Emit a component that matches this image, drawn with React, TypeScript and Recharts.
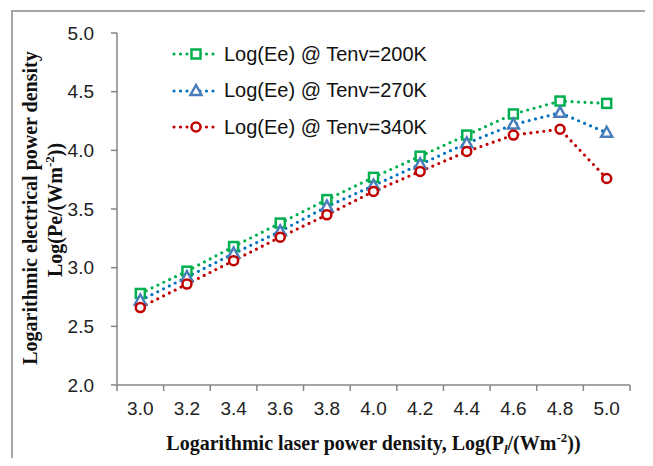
import React from "react";
import { LineChart, Line, XAxis, YAxis } from "recharts";

const laserLog = [3.0, 3.2, 3.4, 3.6, 3.8, 4.0, 4.2, 4.4, 4.6, 4.8, 5.0];
const tenv200 = [2.78, 2.97, 3.18, 3.38, 3.58, 3.77, 3.95, 4.13, 4.31, 4.42, 4.4];
const tenv270 = [2.72, 2.92, 3.12, 3.31, 3.52, 3.7, 3.88, 4.06, 4.22, 4.32, 4.15];
const tenv340 = [2.66, 2.86, 3.06, 3.26, 3.45, 3.65, 3.82, 3.99, 4.13, 4.18, 3.76];
const boundaryTicks = [2.9, 3.1, 3.3, 3.5, 3.7, 3.9, 4.1, 4.3, 4.5, 4.7, 4.9, 5.1];
const yTicks = [2.0, 2.5, 3.0, 3.5, 4.0, 4.5, 5.0];
const seriesNames = ["Log(Ee) @ Tenv=200K", "Log(Ee) @ Tenv=270K", "Log(Ee) @ Tenv=340K"];

const data = laserLog.map((x, i) => ({
  x,
  t200: tenv200[i],
  t270: tenv270[i],
  t340: tenv340[i],
}));

const GREEN = "#00b050";
const BLUE = "#0070c0";
const BLUE_MARK = "#4a7ebb";
const RED = "#c00000";
const AXIS = "#868686";

type Shape = "square" | "triangle" | "circle";

const Marker = ({ cx, cy, shape, color }: { cx: number; cy: number; shape: Shape; color: string }) => {
  if (cx == null || cy == null) return null;
  if (shape === "square")
    return <rect x={cx - 4.5} y={cy - 4.5} width={9} height={9} fill="#fff" stroke={color} strokeWidth={2.5} />;
  if (shape === "triangle")
    return (
      <polygon
        points={`${cx},${cy - 6} ${cx + 5.5},${cy + 4} ${cx - 5.5},${cy + 4}`}
        fill="#fff"
        stroke={color}
        strokeWidth={2.5}
      />
    );
  return <circle cx={cx} cy={cy} r={4.5} fill="#fff" stroke={color} strokeWidth={2.5} />;
};

const series = [
  { key: "t200", name: seriesNames[0], line: GREEN, mark: GREEN, shape: "square" as Shape },
  { key: "t270", name: seriesNames[1], line: BLUE, mark: BLUE_MARK, shape: "triangle" as Shape },
  { key: "t340", name: seriesNames[2], line: RED, mark: RED, shape: "circle" as Shape },
];

const serif = "'Liberation Serif', 'Times New Roman', serif";
const sans = "'Liberation Sans', Arial, sans-serif";

const XTitle = (props: any) => {
  const { x, y, width } = props.viewBox;
  return (
    <text x={x + width / 2} y={y + 59} textAnchor="middle" fontFamily={serif} fontWeight="bold" fontSize={20} fill="#111">
      Logarithmic laser power density, Log(P
      <tspan fontStyle="italic" fontSize={13} dy={4}>l</tspan>
      <tspan dy={-4}>/(Wm</tspan>
      <tspan fontSize={13} dy={-8}>-2</tspan>
      <tspan dy={8}>))</tspan>
    </text>
  );
};

const YTitle = () => {
  const cy = 200;
  const font = { fontFamily: serif, fontWeight: "bold" as const, fontSize: 20, fill: "#111" };
  return (
    <g>
      <text x={29} y={cy} textAnchor="middle" transform={`rotate(-90, 29, ${cy})`} {...font}>
        Logarithmic electrical power density
      </text>
      <text x={54} y={cy + 2} textAnchor="middle" transform={`rotate(-90, 54, ${cy + 2})`} {...font}>
        Log(Pe/(Wm
        <tspan fontSize={13} dy={-8}>-2</tspan>
        <tspan dy={8}>))</tspan>
      </text>
    </g>
  );
};

const NoLabel = () => <g />;

const LegendBox = () => (
  <div style={{ position: "absolute", left: 163, top: 28, fontFamily: sans, fontSize: 20, color: "#111" }}>
    {series.map((s) => (
      <div key={s.key} style={{ display: "flex", alignItems: "center", height: 36.5 }}>
        <svg width={50} height={20} style={{ marginRight: 3 }}>
          <line x1={3} y1={10} x2={47} y2={10} stroke={s.line} strokeWidth={3.2} strokeDasharray="0 6.5" strokeLinecap="round" />
          <Marker cx={25} cy={10} shape={s.shape} color={s.mark} />
        </svg>
        <span>{s.name}</span>
      </div>
    ))}
  </div>
);

export default function App() {
  return (
    <div style={{ position: "relative", width: 637, height: 450, background: "#fff" }}>
      <div
        style={{
          position: "absolute",
          left: 3,
          top: 2,
          width: 660,
          height: 470,
          borderLeft: "2px solid #a6a6a6",
          borderTop: "2px solid #a6a6a6",
          boxSizing: "border-box",
        }}
      />
      <LineChart width={637} height={450} data={data} margin={{ top: 25, right: 15, left: 0, bottom: 0 }}>
        <XAxis
          xAxisId="grid"
          dataKey="x"
          type="number"
          domain={[2.9, 5.1]}
          ticks={boundaryTicks}
          interval={0}
          tick={<NoLabel />}
          tickSize={6}
          height={6}
          stroke={AXIS}
          strokeWidth={1.5}
          allowDataOverflow
        />
        <XAxis
          xAxisId="main"
          dataKey="x"
          type="number"
          domain={[2.9, 5.1]}
          ticks={laserLog}
          interval={0}
          tickFormatter={(v: number) => v.toFixed(1)}
          axisLine={false}
          tickLine={false}
          tickSize={0}
          tickMargin={11}
          height={67}
          tick={{ fill: "#222", fontSize: 19, fontFamily: sans }}
          label={<XTitle />}
          allowDataOverflow
        />
        <YAxis
          type="number"
          domain={[2, 5]}
          ticks={yTicks}
          interval={0}
          tickFormatter={(v: number) => v.toFixed(1)}
          width={109}
          stroke={AXIS}
          strokeWidth={1.5}
          tickSize={6}
          tickMargin={17}
          tick={{ fill: "#222", fontSize: 19, fontFamily: sans }}
          label={<YTitle />}
        />
        {series.map((s) => (
          <Line
            key={s.key}
            xAxisId="main"
            dataKey={s.key}
            name={s.name}
            stroke={s.line}
            strokeWidth={3.2}
            strokeDasharray="0 6.5"
            strokeLinecap="round"
            isAnimationActive={false}
            dot={(p: any) => <Marker key={`${s.key}-${p.index}`} cx={p.cx} cy={p.cy} shape={s.shape} color={s.mark} />}
            activeDot={false}
          />
        ))}
      </LineChart>
      <LegendBox />
    </div>
  );
}
